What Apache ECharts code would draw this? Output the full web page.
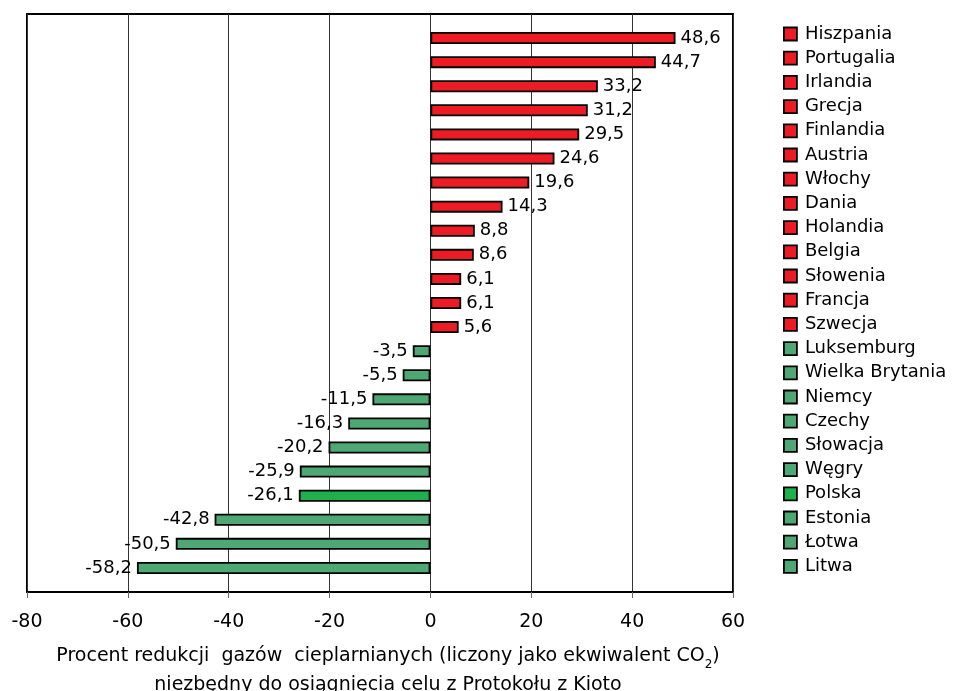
<!DOCTYPE html>
<html>
<head>
<meta charset="utf-8">
<script src="https://cdn.jsdelivr.net/npm/echarts@6/dist/echarts.min.js"></script>
<style>html,body{margin:0;padding:0;background:#fff}#c{width:959px;height:691px}</style>
</head>
<body>
<div id="c"></div>
<script>
const categories = ['Hiszpania','Portugalia','Irlandia','Grecja','Finlandia','Austria','Włochy','Dania','Holandia','Belgia','Słowenia','Francja','Szwecja','Luksemburg','Wielka Brytania','Niemcy','Czechy','Słowacja','Węgry','Polska','Estonia','Łotwa','Litwa'];
const values = [48.6,44.7,33.2,31.2,29.5,24.6,19.6,14.3,8.8,8.6,6.1,6.1,5.6,-3.5,-5.5,-11.5,-16.3,-20.2,-25.9,-26.1,-42.8,-50.5,-58.2];
const xTicks = { min: -80, max: 60, interval: 20 };
const highlight = 'Polska';

const RED = '#ED1C24', GREEN = '#4EA873', GREEN_HL = '#1DB04B';
const FONT = '"DejaVu Sans", "Liberation Sans", Arial, sans-serif';

const series = categories.map((name, i) => ({
  name: name,
  type: 'bar',
  stack: 'all',
  xAxisIndex: 1,
  yAxisIndex: 1,
  barWidth: 12,
  data: categories.map((c, j) => j === i ? values[i] : '-'),
  itemStyle: {
    color: values[i] >= 0 ? RED : (name === highlight ? GREEN_HL : GREEN),
    borderColor: '#000',
    borderWidth: 1.8
  },
  label: {
    show: true,
    position: values[i] >= 0 ? 'right' : 'left',
    distance: 5,
    fontSize: 18,
    fontFamily: FONT,
    color: '#000',
    formatter: p => p.value.toFixed(1).replace('.', ',')
  }
}));

const chart = echarts.init(document.getElementById('c'), null, { renderer: 'canvas' });
chart.setOption({
  animation: false,
  textStyle: { fontFamily: FONT },
  grid: [
    { left: 27, top: 14, width: 706, height: 578, show: true, borderColor: '#000', borderWidth: 2, backgroundColor: 'transparent', outerBoundsMode: 'none', containLabel: false },
    { left: 27, top: 26, width: 706, height: 554, outerBoundsMode: 'none', containLabel: false }
  ],
  legend: {
    orient: 'vertical',
    left: 778,
    top: 20,
    icon: 'rect',
    itemWidth: 13,
    itemHeight: 13,
    itemGap: 6.2,
    itemStyle: { borderColor: '#000', borderWidth: 1.8 },
    textStyle: { fontSize: 18, lineHeight: 18, color: '#000', fontFamily: FONT, padding: [0, 0, 0, 3] },
    data: categories
  },
  xAxis: [
    {
      type: 'value', gridIndex: 0,
      min: xTicks.min, max: xTicks.max, interval: xTicks.interval,
      axisLine: { show: true, lineStyle: { color: '#000', width: 2 } },
      axisTick: { show: true, length: 6, lineStyle: { color: '#666' } },
      axisLabel: { fontSize: 19, color: '#000', margin: 21, fontFamily: FONT },
      splitLine: { show: true, lineStyle: { color: '#333', width: 1 } },
      name: 'Procent redukcji  gazów  cieplarnianych (liczony jako ekwiwalent CO{sub|2})\nniezbędny do osiągnięcia celu z Protokołu z Kioto',
      nameLocation: 'middle',
      nameGap: 50,
      nameTextStyle: {
        fontSize: 19, color: '#000', fontFamily: FONT, lineHeight: 29, verticalAlign: 'top',
        padding: [0, 0, 0, 16],
        rich: { sub: { fontSize: 12, verticalAlign: 'bottom', lineHeight: 29, padding: [14, 0, 0, 0] } }
      }
    },
    {
      type: 'value', gridIndex: 1,
      min: xTicks.min, max: xTicks.max, interval: xTicks.interval,
      show: false
    }
  ],
  yAxis: [
    { type: 'value', gridIndex: 0, show: false },
    {
      type: 'category', gridIndex: 1, data: categories, inverse: true, show: false
    }
  ],
  series: series
});
</script>
</body>
</html>
